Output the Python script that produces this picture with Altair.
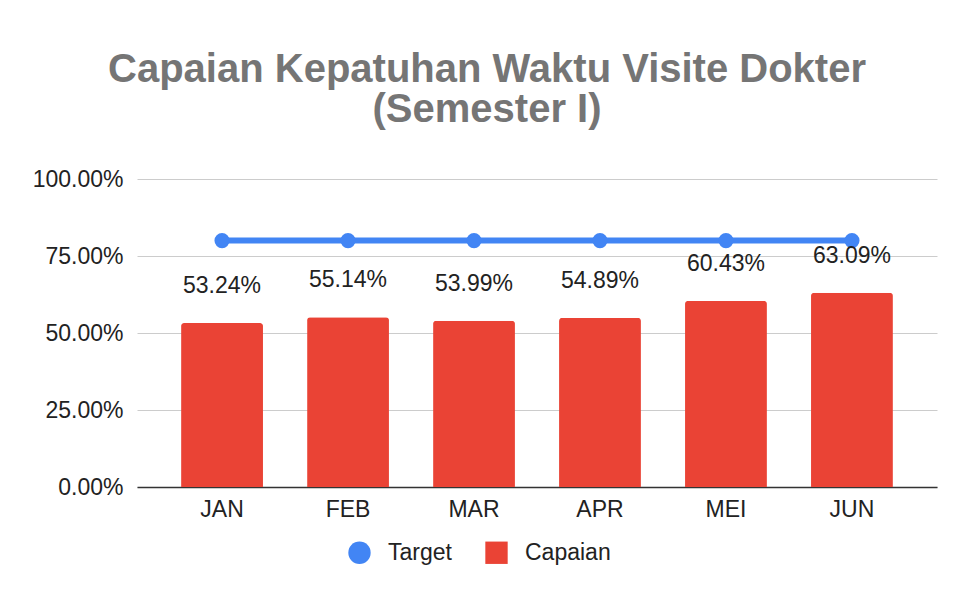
import altair as alt
import pandas as pd

months = ["JAN", "FEB", "MAR", "APR", "MEI", "JUN"]
capaian = [0.5324, 0.5514, 0.5399, 0.5489, 0.6043, 0.6309]
target = [0.80, 0.80, 0.80, 0.80, 0.80, 0.80]
series_names = ["Target", "Capaian"]
series_colors = ["#4285F4", "#EA4335"]
series_shapes = ["circle", "square"]
y_ticks = [0, 0.25, 0.5, 0.75, 1.0]

rows = []
for m, v in zip(months, target):
    rows.append({"month": m, "series": "Target", "value": v})
for m, v in zip(months, capaian):
    rows.append({"month": m, "series": "Capaian", "value": v})
df = pd.DataFrame(rows)

FONT = "Liberation Sans"
FS = 23

x_enc = alt.X(
    "month:N",
    sort=months,
    title=None,
    scale=alt.Scale(paddingInner=0.35, paddingOuter=0.35),
    axis=alt.Axis(
        labelAngle=0,
        labelFontSize=FS,
        labelColor="#222222",
        labelFont=FONT,
        labelPadding=11,
        ticks=False,
        domainColor="#333333",
        domainWidth=1.5,
        grid=False,
    ),
)
y_enc = alt.Y(
    "value:Q",
    title=None,
    scale=alt.Scale(domain=[0, 1]),
    axis=alt.Axis(
        values=y_ticks,
        format=".2%",
        labelFontSize=FS,
        labelColor="#222222",
        labelFont=FONT,
        labelPadding=14,
        ticks=False,
        domain=False,
        gridColor="#cccccc",
        gridWidth=1,
    ),
)
color_enc = alt.Color(
    "series:N",
    scale=alt.Scale(domain=series_names, range=series_colors),
    title=None,
)
shape_enc = alt.Shape(
    "series:N",
    scale=alt.Scale(domain=series_names, range=series_shapes),
    title=None,
)

base = alt.Chart(df)

bars = base.transform_filter(alt.datum.series == "Capaian").mark_bar(
    cornerRadiusTopLeft=3, cornerRadiusTopRight=3
).encode(x=x_enc, y=y_enc, color=color_enc)

line = base.transform_filter(alt.datum.series == "Target").mark_line(
    color="#4285F4", strokeWidth=6
).encode(x=x_enc, y=y_enc)

points = base.transform_filter(alt.datum.series == "Target").mark_point(
    filled=True, size=230, opacity=1
).encode(x=x_enc, y=y_enc, color=color_enc, shape=shape_enc)

labels = base.transform_filter(alt.datum.series == "Capaian").mark_text(
    fontSize=FS, font=FONT, color="#222222", baseline="middle", dy=-37
).encode(x=x_enc, y=y_enc, text=alt.Text("value:Q", format=".2%"))

chart = alt.layer(bars, line, points, labels).properties(
    width=800,
    height=308,
    autosize=alt.AutoSizeParams(type="none"),
    padding={"left": 129, "top": 171, "right": 21, "bottom": 100},
    title=alt.TitleParams(
        text=["Capaian Kepatuhan Waktu Visite Dokter", "(Semester I)"],
        fontSize=40,
        font=FONT,
        fontWeight="bold",
        color="#757575",
        anchor="middle",
        dx=-50,
        offset=38,
        lineHeight=40,
    ),
).configure_view(stroke=None).configure_legend(
    orient="none",
    legendX=211,
    legendY=362,
    direction="horizontal",
    symbolSize=500,
    labelFontSize=FS,
    labelFont=FONT,
    labelColor="#222222",
    labelOffset=17,
    columnPadding=33,
    symbolStrokeWidth=0,
    symbolOpacity=1,
)

chart.save("out.html", embed_options={"renderer": "svg", "actions": False})
